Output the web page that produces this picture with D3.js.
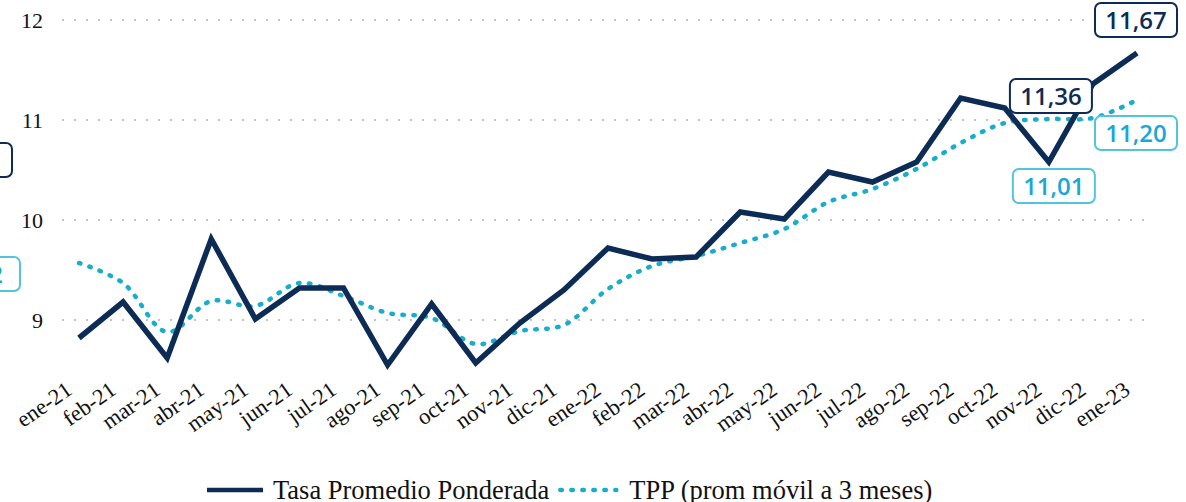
<!DOCTYPE html>
<html>
<head>
<meta charset="utf-8">
<script src="https://cdn.jsdelivr.net/npm/d3@7"></script>
<style>
  body { margin: 0; background: #fff; }
  svg { display: block; }
</style>
</head>
<body>
<div id="chart"></div>
<script>
// data
var months = ["ene-21","feb-21","mar-21","abr-21","may-21","jun-21","jul-21","ago-21","sep-21","oct-21","nov-21","dic-21",
              "ene-22","feb-22","mar-22","abr-22","may-22","jun-22","jul-22","ago-22","sep-22","oct-22","nov-22","dic-22","ene-23"];
var tasa = [8.82, 9.18, 8.62, 9.81, 9.01, 9.32, 9.32, 8.55, 9.16, 8.57, 8.97, 9.30,
            9.72, 9.61, 9.63, 10.08, 10.01, 10.48, 10.38, 10.58, 11.22, 11.12, 10.58, 11.36, 11.67];
var tppMovil = [9.57, 9.37, 8.88, 9.19, 9.14, 9.37, 9.24, 9.07, 9.02, 8.76, 8.89, 8.95,
                9.31, 9.54, 9.64, 9.77, 9.91, 10.18, 10.31, 10.51, 10.77, 10.97, 11.01, 11.02, 11.20];
var yTicks = [9, 10, 11, 12];
var seriesNames = ["Tasa Promedio Ponderada", "TPP (prom móvil a 3 meses)"];

// value boxes: month, series, text, offset of box centre from the point
var labels = [
  {m: "ene-23", s: 0, t: "11,67", dx: -1,  dy: -33},
  {m: "dic-22", s: 0, t: "11,36", dx: -42, dy: 12},
  {m: "ene-23", s: 1, t: "11,20", dx: -1,  dy: 33},
  {m: "nov-22", s: 1, t: "11,01", dx: 5,   dy: 67},
  {m: "ene-21", s: 1, t: "9,62",  dx: -100, dy: 11},
  {m: "ene-21", s: 0, t: "8,81",  dx: -108, dy: -178}
];

var W = 1186, H = 502;
var navy = "#0c2b55", cyan = "#18aecb", cyanLab = "#1aa7d6", cyanBox = "#52c4dd";

var svg = d3.select("#chart").append("svg")
    .attr("width", W).attr("height", H);

var x = d3.scalePoint().domain(months).range([79, 1137]);
var y = d3.scaleLinear().domain([8, 12]).range([420, 20]);

// grid
svg.append("g").selectAll("line")
  .data(yTicks).enter().append("line")
    .attr("x1", 62).attr("x2", 1153)
    .attr("y1", function(d){ return y(d); })
    .attr("y2", function(d){ return y(d); })
    .attr("stroke", "#c4c4c4")
    .attr("stroke-width", 2)
    .attr("stroke-dasharray", "2,10");

// y axis labels
var yAxis = d3.axisLeft(y).tickValues(yTicks).tickSize(0).tickPadding(0)
    .tickFormat(function(d){ return d; });
var yg = svg.append("g").attr("transform", "translate(43,0)").call(yAxis);
yg.select(".domain").remove();
yg.selectAll("text")
    .attr("font-family", "'Liberation Serif', serif")
    .attr("font-size", 22)
    .attr("fill", "#111");

// x axis labels, rotated
var xAxis = d3.axisBottom(x).tickSize(0).tickPadding(0);
var xg = svg.append("g").attr("transform", "translate(0,393)").call(xAxis);
xg.select(".domain").remove();
xg.selectAll("text")
    .attr("font-family", "'Liberation Serif', serif")
    .attr("font-size", 22.5)
    .attr("fill", "#111")
    .attr("text-anchor", "end")
    .attr("dy", 0)
    .attr("transform", "translate(-6,0) rotate(-35)");

// lines
var lineMain = d3.line()
    .x(function(d, i){ return x(months[i]); })
    .y(function(d){ return y(d); });
var lineAvg = d3.line()
    .x(function(d, i){ return x(months[i]); })
    .y(function(d){ return y(d); })
    .curve(d3.curveCatmullRom);

svg.append("path").datum(tppMovil)
    .attr("d", lineAvg)
    .attr("fill", "none")
    .attr("stroke", cyan)
    .attr("stroke-width", 4.5)
    .attr("stroke-linecap", "round")
    .attr("stroke-dasharray", "1.5,9.5");

svg.append("path").datum(tasa)
    .attr("d", lineMain)
    .attr("fill", "none")
    .attr("stroke", navy)
    .attr("stroke-width", 5.5);

// value boxes
var series = [tasa, tppMovil];
var lab = svg.append("g").selectAll("g")
  .data(labels).enter().append("g")
    .attr("transform", function(d){
        var i = months.indexOf(d.m);
        return "translate(" + (x(d.m) + d.dx) + "," + (y(series[d.s][i]) + d.dy) + ")";
    });
lab.append("rect")
    .attr("x", -41).attr("y", -17)
    .attr("width", 82).attr("height", 34)
    .attr("rx", 6)
    .attr("fill", "#fff")
    .attr("stroke", function(d){ return d.s ? cyanBox : navy; })
    .attr("stroke-width", 2);
lab.append("text")
    .attr("text-anchor", "middle")
    .attr("dy", "0.36em")
    .attr("font-family", "'Open Sans', sans-serif")
    .attr("font-weight", 600)
    .attr("font-size", 24)
    .attr("fill", function(d){ return d.s ? cyanLab : navy; })
    .text(function(d){ return d.t; });

// legend
var leg = svg.append("g").attr("transform", "translate(207,490)");
leg.append("line").attr("x1", 0).attr("x2", 56)
    .attr("stroke", navy).attr("stroke-width", 4.5);
var t1 = leg.append("text").attr("x", 66).attr("y", 9)
    .attr("font-family", "'Liberation Serif', serif")
    .attr("font-size", 26.5).attr("fill", "#111")
    .text(seriesNames[0]);
var x2 = 66 + t1.node().getComputedTextLength() + 9;
leg.append("line").attr("x1", x2 + 2).attr("x2", x2 + 58)
    .attr("stroke", cyan).attr("stroke-width", 4.5)
    .attr("stroke-linecap", "round")
    .attr("stroke-dasharray", "1.5,9.5");
leg.append("text").attr("x", x2 + 71).attr("y", 9)
    .attr("font-family", "'Liberation Serif', serif")
    .attr("font-size", 26.5).attr("fill", "#111")
    .text(seriesNames[1]);
</script>
</body>
</html>
